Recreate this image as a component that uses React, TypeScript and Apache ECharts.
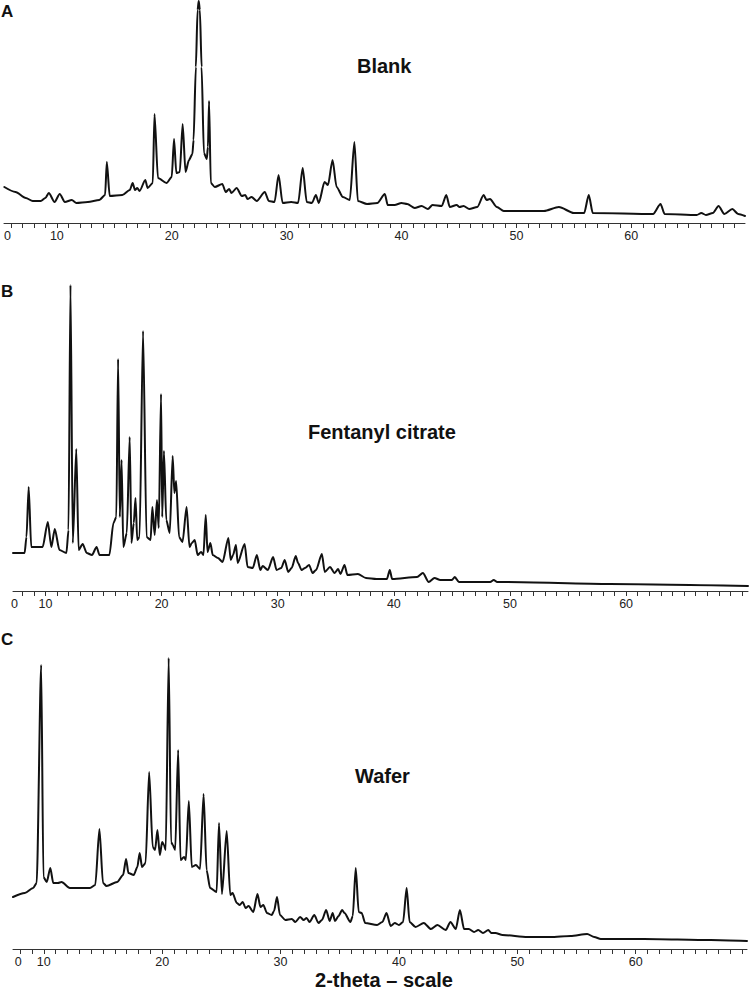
import React, { useEffect, useRef } from "react";
import * as echarts from "echarts";

// ---------- data (2-theta in degrees, intensity in arbitrary units) ----------
const blankTheta = [5.43, 6.4, 7.3, 7.9, 8.6, 9.0, 9.3, 9.8, 10.25, 10.7, 11.3, 11.7, 12.7, 13.7, 14.2, 14.35, 14.6, 15.7, 16.35, 16.6, 16.8, 17.0, 17.2, 17.7, 17.9, 18.35, 18.5, 18.8, 19.55, 20.0, 20.2, 20.4, 20.7, 20.95, 21.2, 21.5, 21.8, 21.9, 22.1, 22.25, 22.35, 22.45, 22.6, 22.8, 23.05, 23.15, 23.25, 23.4, 23.75, 24.4, 24.7, 25.0, 25.2, 25.65, 26.1, 26.4, 26.6, 26.95, 27.4, 28.1, 28.45, 28.95, 29.3, 29.65, 30.4, 31.0, 31.4, 31.75, 32.2, 32.55, 32.8, 33.3, 33.6, 34.0, 34.35, 34.9, 35.5, 35.9, 36.2, 37.0, 37.9, 38.55, 38.8, 39.4, 40.0, 40.5, 41.15, 41.75, 42.3, 42.7, 43.5, 43.9, 44.2, 44.8, 45.05, 45.4, 45.9, 46.6, 47.15, 47.4, 47.7, 48.3, 48.9, 52.4, 53.7, 55.0, 55.9, 56.3, 56.65, 61.9, 62.55, 62.9, 65.7, 66.1, 66.5, 67.1, 67.6, 68.1, 68.8, 69.3, 69.9];
const blankIntensity = [36, 31, 25, 22, 22, 25, 30, 21, 29, 21, 23, 20, 21, 23, 28, 61, 27, 28, 33, 40, 33, 35, 32, 43, 35, 40, 109, 45, 40, 46, 84, 50, 51, 99, 51, 63, 69, 83, 156, 213, 222, 213, 156, 70, 64, 76, 122, 40, 36, 39, 31, 34, 30, 35, 27, 28, 24, 26, 22, 31, 22, 21, 48, 20, 21, 20, 55, 21, 20, 28, 20, 41, 38, 63, 36, 26, 23, 81, 22, 19, 20, 29, 18, 18, 20, 19, 15, 17, 14, 18, 17, 28, 16, 18, 16, 17, 14, 16, 28, 23, 24, 16, 12, 12, 16, 10, 10, 28, 10, 9, 19, 9, 8, 10, 8, 10, 17, 9, 14, 9, 7];

const fentanylTheta = [7.2, 8.2, 8.36, 8.55, 8.77, 9.75, 10.2, 10.5, 10.8, 11.2, 11.8, 11.98, 12.15, 12.35, 12.65, 12.85, 13.2, 13.55, 14.0, 14.4, 14.65, 15.5, 15.85, 16.1, 16.25, 16.4, 16.55, 16.7, 17.0, 17.25, 17.4, 17.6, 17.75, 17.9, 18.1, 18.4, 18.7, 19.05, 19.2, 19.4, 19.6, 19.75, 19.95, 20.05, 20.2, 20.4, 20.7, 20.95, 21.1, 21.25, 21.5, 21.8, 22.15, 22.4, 22.6, 22.85, 23.1, 23.4, 23.6, 23.8, 23.95, 24.2, 24.4, 24.85, 25.25, 25.75, 25.95, 26.15, 26.4, 26.55, 27.15, 27.4, 27.85, 28.2, 28.5, 28.7, 29.15, 29.6, 29.9, 30.3, 30.6, 30.9, 31.2, 31.55, 31.75, 32.05, 32.35, 32.7, 33.0, 33.3, 33.8, 34.05, 34.5, 34.9, 35.2, 35.4, 35.75, 36.0, 36.9, 37.6, 38.5, 39.4, 39.65, 39.85, 42.0, 42.5, 43.0, 43.5, 44.0, 45.0, 45.25, 45.6, 48.3, 48.6, 48.9, 49.7, 58.6, 70.5];
const fentanylIntensity = [38, 38, 54, 104, 44, 44, 69, 44, 62, 41, 38, 61, 306, 48, 142, 41, 47, 38, 36, 44, 36, 36, 68, 74, 232, 74, 131, 44, 58, 154, 48, 68, 93, 51, 54, 260, 54, 51, 84, 56, 91, 63, 197, 74, 140, 71, 58, 135, 98, 110, 54, 49, 84, 44, 48, 51, 36, 39, 36, 76, 39, 48, 36, 33, 29, 53, 31, 36, 46, 28, 47, 24, 23, 36, 21, 25, 21, 34, 21, 23, 31, 19, 23, 35, 28, 21, 23, 26, 18, 21, 37, 19, 24, 18, 22, 17, 26, 16, 17, 13, 12, 12, 21, 12, 14, 18, 9, 13, 11, 11, 14, 9, 9, 11, 9, 9, 7, 5];

const waferTheta = [7.4, 8.4, 9.1, 9.4, 9.78, 9.97, 10.25, 10.55, 10.8, 11.2, 11.5, 12.2, 13.9, 14.35, 14.7, 15.0, 15.3, 16.2, 16.7, 16.95, 17.15, 17.6, 17.9, 18.1, 18.3, 18.6, 18.9, 19.2, 19.4, 19.6, 19.8, 20.0, 20.15, 20.3, 20.55, 20.75, 20.9, 21.1, 21.35, 21.55, 21.85, 22.0, 22.25, 22.5, 22.85, 23.2, 23.5, 23.75, 24.05, 24.6, 24.8, 25.05, 25.45, 25.75, 25.95, 26.3, 26.55, 26.8, 27.05, 27.3, 27.7, 28.05, 28.3, 28.55, 28.85, 29.25, 29.45, 29.7, 29.95, 30.4, 30.95, 31.25, 31.65, 31.95, 32.2, 32.45, 32.85, 33.2, 33.5, 33.85, 34.15, 34.4, 34.6, 34.9, 35.2, 35.4, 35.9, 36.1, 36.35, 36.6, 36.85, 37.15, 38.15, 38.6, 38.95, 39.3, 39.65, 40.0, 40.35, 40.65, 40.9, 41.4, 42.1, 42.7, 43.25, 43.95, 44.35, 44.8, 45.15, 45.5, 45.9, 46.35, 46.7, 47.1, 47.55, 47.8, 48.15, 48.75, 50.85, 52.8, 54.5, 55.9, 56.5, 57.05, 60.7, 66.35, 69.4];
const waferIntensity = [52, 56, 61, 66, 284, 72, 67, 81, 66, 66, 67, 61, 61, 64, 120, 66, 63, 67, 74, 90, 76, 74, 82, 96, 82, 86, 177, 102, 99, 119, 94, 107, 104, 99, 291, 107, 104, 99, 199, 89, 92, 89, 148, 82, 84, 80, 155, 79, 61, 57, 126, 55, 118, 54, 56, 46, 44, 47, 41, 43, 37, 55, 42, 44, 36, 34, 38, 52, 34, 29, 30, 27, 32, 29, 31, 27, 34, 26, 29, 39, 28, 36, 28, 33, 39, 36, 27, 33, 81, 37, 36, 26, 24, 27, 36, 23, 26, 24, 27, 61, 27, 22, 26, 20, 24, 19, 27, 20, 39, 20, 20, 17, 19, 16, 19, 16, 16, 14, 12, 12, 13, 15, 12, 10, 10, 9, 8];

const tickLabels = ["0", "10", "20", "30", "40", "50", "60"];
const labelValuesBlank = [5.7, 10, 20, 30, 40, 50, 60];
const labelValuesFentanyl = [7.33, 10, 20, 30, 40, 50, 60];
const labelValuesWafer = [7.84, 10, 20, 30, 40, 50, 60];

const panelLetters = ["A", "B", "C"];
const panelTitles = ["Blank", "Fentanyl citrate", "Wafer"];
const xAxisTitle = "2-theta \u2013 scale";

const FONT = "'Liberation Sans', Arial, Helvetica, sans-serif";

function intTicks(min: number, max: number) {
  const out: number[] = [];
  for (let v = Math.ceil(min); v <= Math.floor(max); v++) out.push(v);
  return out;
}

function pair(xs: number[], ys: number[]) {
  return xs.map((x, i) => [x, ys[i]]);
}

export default function App() {
  const ref = useRef<HTMLDivElement>(null);
  useEffect(() => {
    if (!ref.current) return;
    const chart = echarts.init(ref.current, undefined, { renderer: "svg" });

    const panels = [
      { grid: { left: 4, right: 9, top: 0, height: 223 }, min: 5.4, max: 69.9, ymax: 223, labels: labelValuesBlank, data: pair(blankTheta, blankIntensity) },
      { grid: { left: 13, right: 6, top: 250, height: 341 }, min: 7.2, max: 70.5, ymax: 341, labels: labelValuesFentanyl, data: pair(fentanylTheta, fentanylIntensity) },
      { grid: { left: 13, right: 7, top: 600, height: 349 }, min: 7.4, max: 69.4, ymax: 349, labels: labelValuesWafer, data: pair(waferTheta, waferIntensity) },
    ];

    const option: any = {
      animation: false,
      backgroundColor: "#ffffff",
      grid: panels.map((p) => ({ ...p.grid, containLabel: false })),
      xAxis: panels.map((p, i) => ({
        type: "value",
        gridIndex: i,
        min: p.min,
        max: p.max,
        splitLine: { show: false },
        axisLine: { show: true, onZero: false, lineStyle: { color: "#333", width: 1 } },
        axisTick: { show: true, length: 5, customValues: intTicks(p.min, p.max), lineStyle: { color: "#333", width: 1 } },
        axisLabel: {
          show: true,
          customValues: p.labels,
          margin: 6,
          color: "#222",
          fontSize: 12.5,
          fontFamily: FONT,
          formatter: (v: number) => {
            const idx = p.labels.findIndex((lv) => Math.abs(lv - v) < 1e-6);
            return idx >= 0 ? tickLabels[idx] : "";
          },
        },
      })),
      yAxis: panels.map((p, i) => ({
        type: "value",
        gridIndex: i,
        min: 0,
        max: p.ymax,
        show: false,
        splitLine: { show: false },
      })),
      series: panels.map((p, i) => ({
        type: "line",
        xAxisIndex: i,
        yAxisIndex: i,
        data: p.data,
        showSymbol: false,
        symbol: "none",
        clip: false,
        smooth: 0.25,
        smoothMonotone: "x",
        lineStyle: { color: "#111", width: 2, join: "round", cap: "round" },
      })),
      graphic: [
        { type: "text", x: 1, y: 11.5, style: { text: panelLetters[0], font: `bold 17px ${FONT}`, fill: "#111", textVerticalAlign: "middle" } },
        { type: "text", x: 1, y: 291, style: { text: panelLetters[1], font: `bold 17px ${FONT}`, fill: "#111", textVerticalAlign: "middle" } },
        { type: "text", x: 1, y: 639, style: { text: panelLetters[2], font: `bold 17px ${FONT}`, fill: "#111", textVerticalAlign: "middle" } },
        { type: "text", x: 357, y: 66, style: { text: panelTitles[0], font: `bold 20px ${FONT}`, fill: "#111", textVerticalAlign: "middle" } },
        { type: "text", x: 308, y: 432, style: { text: panelTitles[1], font: `bold 20px ${FONT}`, fill: "#111", textVerticalAlign: "middle" } },
        { type: "text", x: 355, y: 776, style: { text: panelTitles[2], font: `bold 20px ${FONT}`, fill: "#111", textVerticalAlign: "middle" } },
        { type: "text", x: 384, y: 980, style: { text: xAxisTitle, font: `bold 20px ${FONT}`, fill: "#111", textAlign: "center", textVerticalAlign: "middle" } },
      ],
    };
    chart.setOption(option);
    return () => chart.dispose();
  }, []);
  return <div ref={ref} style={{ position: "absolute", left: 0, top: 0, width: 754, height: 990 }} />;
}
